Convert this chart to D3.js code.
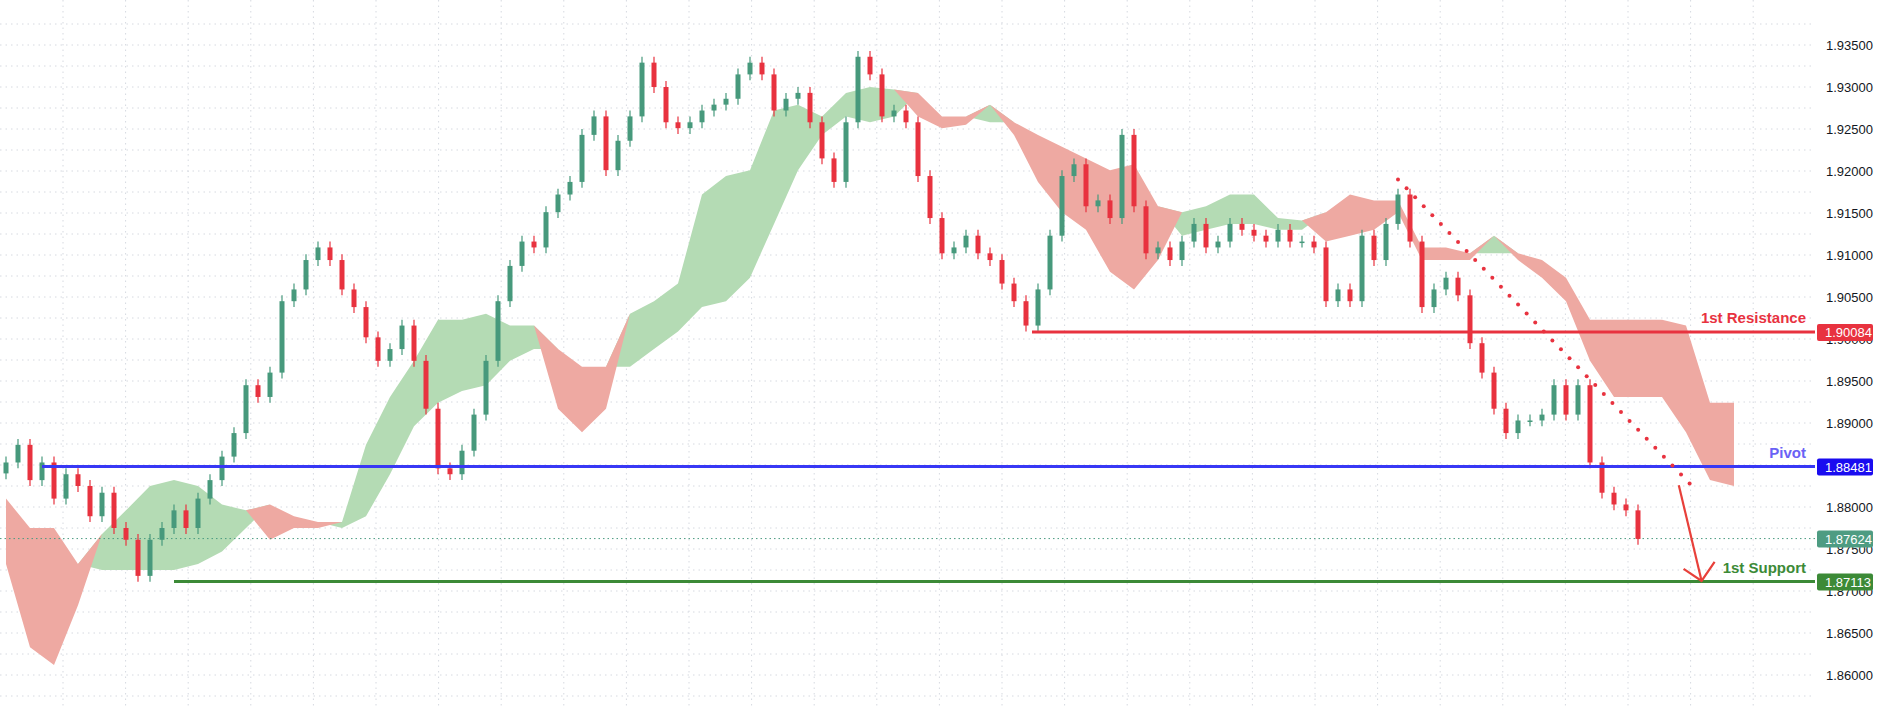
<!DOCTYPE html>
<html>
<head>
<meta charset="utf-8">
<script src="https://cdn.jsdelivr.net/npm/d3@7"></script>
<style>
  body { margin: 0; background: #fff; }
  svg { display: block; font-family: "Liberation Sans", Arial, sans-serif; }
</style>
</head>
<body>
<svg id="chart" width="1880" height="707"></svg>
<script>
// closes, one per bar (open = previous close)
var closes = [
  1.8853,1.8874,1.8832,1.8853,1.8810,1.8839,1.8825,1.8789,1.8817,1.8775,
  1.8761,1.8718,1.8761,1.8775,1.8796,1.8775,1.8810,1.8832,1.8860,1.8888,
  1.8945,1.8931,1.8960,1.9045,1.9059,1.9094,1.9109,1.9094,1.9059,1.9038,
  1.9002,1.8974,1.8988,1.9016,1.8974,1.8917,1.8846,1.8839,1.8867,1.8910,
  1.8974,1.9045,1.9087,1.9116,1.9109,1.9151,1.9172,1.9187,1.9243,1.9265,
  1.9201,1.9236,1.9265,1.9329,1.9300,1.9258,1.9251,1.9258,1.9272,1.9279,
  1.9286,1.9315,1.9329,1.9315,1.9272,1.9286,1.9293,1.9258,1.9215,1.9187,
  1.9258,1.9336,1.9315,1.9265,1.9272,1.9258,1.9194,1.9144,1.9102,1.9109,
  1.9123,1.9102,1.9094,1.9066,1.9045,1.9016,1.9059,1.9123,1.9194,1.9208,
  1.9158,1.9165,1.9144,1.9243,1.9158,1.9102,1.9109,1.9094,1.9116,1.9137,
  1.9109,1.9116,1.9137,1.9130,1.9123,1.9116,1.9130,1.9116,1.9116,1.9109,
  1.9045,1.9059,1.9045,1.9123,1.9094,1.9137,1.9172,1.9116,1.9038,1.9059,
  1.9073,1.9052,1.8995,1.8960,1.8917,1.8888,1.8903,1.8903,1.8910,1.8945,
  1.8910,1.8945,1.8853,1.8817,1.8803,1.8796,1.8762
];
var firstOpen = 1.8840;
var wick = 0.0007;

// ichimoku cloud, one point every 2 bars
var spanA = [
  1.8732,1.8633,1.8612,1.8683,1.8768,1.8796,1.8825,1.8832,1.8825,1.8803,
  1.8796,1.8761,1.8775,1.8775,1.8782,1.8874,1.8931,1.8974,1.9023,1.9023,
  1.9030,1.9016,1.9016,1.8917,1.8889,1.8917,1.9030,1.9045,1.9066,1.9172,
  1.9194,1.9201,1.9272,1.9279,1.9265,1.9293,1.9300,1.9297,1.9265,1.9251,
  1.9255,1.9279,1.9243,1.9187,1.9151,1.9130,1.9080,1.9059,1.9094,1.9151,
  1.9158,1.9172,1.9172,1.9144,1.9141,1.9116,1.9123,1.9130,1.9151,1.9094,
  1.9094,1.9094,1.9123,1.9094,1.9073,1.9045,1.8974,1.8931,1.8931,1.8931,
  1.8889,1.8832,1.8825
];
var spanB = [
  1.8810,1.8775,1.8775,1.8732,1.8725,1.8725,1.8725,1.8725,1.8732,1.8747,
  1.8775,1.8803,1.8789,1.8782,1.8775,1.8789,1.8839,1.8896,1.8924,1.8938,
  1.8945,1.8974,1.8988,1.8988,1.8967,1.8967,1.8967,1.8988,1.9009,1.9038,
  1.9045,1.9073,1.9137,1.9201,1.9243,1.9265,1.9258,1.9265,1.9293,1.9265,
  1.9265,1.9258,1.9258,1.9243,1.9229,1.9215,1.9201,1.9208,1.9158,1.9123,
  1.9130,1.9137,1.9137,1.9130,1.9130,1.9151,1.9172,1.9165,1.9165,1.9109,
  1.9109,1.9102,1.9102,1.9102,1.9094,1.9073,1.9023,1.9023,1.9023,1.9023,
  1.9016,1.8924,1.8924
];

var priceTicks = [1.860,1.865,1.870,1.875,1.880,1.885,1.890,1.895,1.900,1.905,1.910,1.915,1.920,1.925,1.930,1.935];
var levels = [
  { name: "1st Resistance", value: 1.90084, from: 85.5, color: "#e8323f", text: "#e8323f", tag: "#e8323f" },
  { name: "Pivot",          value: 1.88481, from: 3,    color: "#3838f5", text: "#6a62f5", tag: "#1a0cf0" },
  { name: "1st Support",    value: 1.87113, from: 14,   color: "#3c8a37", text: "#3c8a37", tag: "#3c8a37" }
];
var lastPrice = 1.87624;
var trendLine = [[116, 1.9190], [140.3, 1.8828]];
var arrowLine = [[139.4, 1.8826], [141.3, 1.8712]];

var svg = d3.select("#chart");
var W = 1815;
var x = d3.scaleLinear().domain([0, closes.length - 1]).range([6, 1638]);
var y = d3.scaleLinear().domain([1.86, 1.935]).range([675, 45]);

// grid
var g = svg.append("g");
g.selectAll(".hg").data(d3.range(1.855, 1.9376, 0.0025)).enter().append("line")
  .attr("x1", 0).attr("x2", W).attr("y1", d => y(d)).attr("y2", d => y(d))
  .attr("stroke", "#d6d9e0").attr("stroke-dasharray", "1.5,4");
g.selectAll(".vg").data(d3.range(63, W, 62.6)).enter().append("line")
  .attr("x1", d => d).attr("x2", d => d).attr("y1", 0).attr("y2", 707)
  .attr("stroke", "#d6d9e0").attr("stroke-dasharray", "1.5,4");

// cloud
var cloud = spanA.map((a, j) => ({ j: j, a: a, b: spanB[j] }));
svg.append("path").datum(cloud)
  .attr("d", d3.area().x(d => x(d.j * 2)).y0(d => y(d.b)).y1(d => y(Math.max(d.a, d.b))))
  .attr("fill", "#b4dbb4");
svg.append("path").datum(cloud)
  .attr("d", d3.area().x(d => x(d.j * 2)).y0(d => y(d.a)).y1(d => y(Math.max(d.a, d.b))))
  .attr("fill", "#eea9a2");

// last price line
svg.append("line").attr("x1", 0).attr("x2", W).attr("y1", y(lastPrice)).attr("y2", y(lastPrice))
  .attr("stroke", "#4a9b80").attr("stroke-dasharray", "1.5,3");

// candles
var bars = closes.map(function(c, i) {
  var o = i == 0 ? firstOpen : closes[i - 1];
  return { i: i, o: o, c: c, h: Math.max(o, c) + wick, l: Math.min(o, c) - wick };
});
var cg = svg.append("g").selectAll("g").data(bars).enter().append("g")
  .attr("fill", d => d.c >= d.o ? "#47997c" : "#e8323f")
  .attr("stroke", d => d.c >= d.o ? "#47997c" : "#e8323f");
cg.append("line").attr("x1", d => x(d.i)).attr("x2", d => x(d.i))
  .attr("y1", d => y(d.h)).attr("y2", d => y(d.l)).attr("stroke-width", 1.2);
cg.append("rect").attr("x", d => x(d.i) - 2.5).attr("width", 5)
  .attr("y", d => y(Math.max(d.o, d.c)))
  .attr("height", d => Math.max(1.5, Math.abs(y(d.o) - y(d.c)))).attr("stroke", "none");

// levels
levels.forEach(function(l) {
  svg.append("line").attr("x1", x(l.from)).attr("x2", W).attr("y1", y(l.value)).attr("y2", y(l.value))
    .attr("stroke", l.color).attr("stroke-width", 3);
  svg.append("text").attr("x", 1806).attr("y", y(l.value) - 9).attr("text-anchor", "end")
    .attr("fill", l.text).attr("font-size", 15).attr("font-weight", 600).text(l.name);
});

// trend annotation
var dots = d3.range(0, 1.0001, 1 / 34).map(t => [
  x(trendLine[0][0] + t * (trendLine[1][0] - trendLine[0][0])),
  y(trendLine[0][1] + t * (trendLine[1][1] - trendLine[0][1]))]);
svg.append("g").selectAll("circle").data(dots).enter().append("circle")
  .attr("cx", d => d[0]).attr("cy", d => d[1]).attr("r", 2).attr("fill", "#e8323f");
var a0 = [x(arrowLine[0][0]), y(arrowLine[0][1])], a1 = [x(arrowLine[1][0]), y(arrowLine[1][1])];
svg.append("line").attr("x1", a0[0]).attr("y1", a0[1]).attr("x2", a1[0]).attr("y2", a1[1])
  .attr("stroke", "#e8403a").attr("stroke-width", 2.2);
svg.append("path").attr("d", `M${a1[0] - 18},${a1[1] - 12} L${a1[0]},${a1[1]} L${a1[0] + 13},${a1[1] - 19}`)
  .attr("fill", "none").attr("stroke", "#e8403a").attr("stroke-width", 2.2);

// right axis
var ax = svg.append("g");
ax.selectAll("text").data(priceTicks).enter().append("text")
  .attr("x", 1826).attr("y", d => y(d) + 5).attr("font-size", 13).attr("fill", "#131722")
  .text(d => d.toFixed(5));

var tags = levels.map(l => ({ v: l.value, c: l.tag })).concat([{ v: lastPrice, c: "#4e9c82" }]);
tags.forEach(function(t) {
  ax.append("rect").attr("x", 1817).attr("y", y(t.v) - 8).attr("width", 56).attr("height", 17)
    .attr("rx", 2).attr("fill", t.c);
  ax.append("text").attr("x", 1825).attr("y", y(t.v) + 5).attr("font-size", 13).attr("fill", "#fff")
    .text(t.v.toFixed(5));
});
</script>
</body>
</html>
